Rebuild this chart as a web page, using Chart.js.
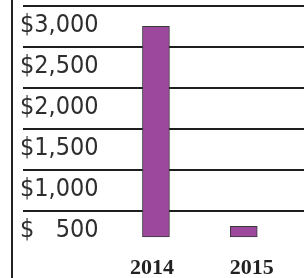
<!DOCTYPE html>
<html>
<head>
<meta charset="utf-8">
<script src="https://cdn.jsdelivr.net/npm/chart.js@4/dist/chart.umd.min.js"></script>
<style>
  body { margin: 0; background: #fff; }
  #wrap { position: relative; width: 304px; height: 278px; }
  #frame { position: absolute; left: 11px; top: 0; width: 2px; height: 278px; background: #222; }
  canvas { position: absolute; left: 0; top: 0; }
</style>
</head>
<body>
<div id="wrap">
  <canvas id="chart" width="304" height="278"></canvas>
  <div id="frame"></div>
</div>
<script>
// data
const years = [2014, 2015];
const amounts = [3000, 560];
const barBase = 430;

// horizontal rules sit 250 above each label value, labels hang underneath
const gridValues = [3250, 2750, 2250, 1750, 1250, 750];
const tickLabels = ['$3,000', '$2,500', '$2,000', '$1,500', '$1,000', '$   500'];

const yMin = 430;
const yMax = 3320;

// stop chart.js from reserving room for label overhang
function noOverhang(scale) {
    scale.paddingTop = 0;
    scale.paddingBottom = 0;
    scale.paddingLeft = 0;
    scale.paddingRight = 0;
}

const ctx = document.getElementById('chart').getContext('2d');
const chart = new Chart(ctx, {
    type: 'bar',
    data: {
        datasets: [{
            data: years.map((y, i) => ({ x: y, y: amounts[i] })),
            backgroundColor: '#9b489d',
            borderColor: '#3a3a3a',
            borderWidth: 1,
            borderSkipped: false,
            barThickness: 27,
            base: barBase,
            clip: false
        }]
    },
    options: {
        responsive: false,
        animation: false,
        layout: { padding: { left: 23, right: 0, top: 0, bottom: 0 } },
        plugins: {
            legend: { display: false },
            tooltip: { enabled: false }
        },
        scales: {
            x: {
                type: 'linear',
                offset: false,
                min: 2012.486,
                max: 2015.686,
                display: false
            },
            xLabels: {
                type: 'linear',
                position: 'bottom',
                offset: false,
                min: 2012.709,
                max: 2015.523,
                grid: { display: false, drawTicks: false },
                border: { display: false },
                afterBuildTicks: scale => { scale.ticks = years.map(v => ({ value: v })); },
                afterFit: scale => { scale.height = 41; noOverhang(scale); },
                ticks: {
                    autoSkip: false,
                    maxRotation: 0,
                    padding: 18,
                    color: '#222',
                    font: { family: "'Liberation Serif', 'DejaVu Serif', serif", size: 22, weight: 'bold' },
                    callback: v => String(v)
                }
            },
            y: {
                min: yMin,
                max: yMax,
                border: { display: false },
                grid: { color: '#1e1e1e', lineWidth: 2, drawTicks: false },
                afterBuildTicks: scale => { scale.ticks = gridValues.map(v => ({ value: v })); },
                afterFit: scale => { scale.width = 0; noOverhang(scale); },
                ticks: {
                    mirror: true,
                    padding: -3,
                    labelOffset: 20,
                    autoSkip: false,
                    color: '#2e2e2e',
                    font: { family: "'DejaVu Sans Condensed', sans-serif", size: 25 },
                    callback: (v, i) => tickLabels[gridValues.indexOf(v)]
                }
            }
        }
    }
});
</script>
</body>
</html>
